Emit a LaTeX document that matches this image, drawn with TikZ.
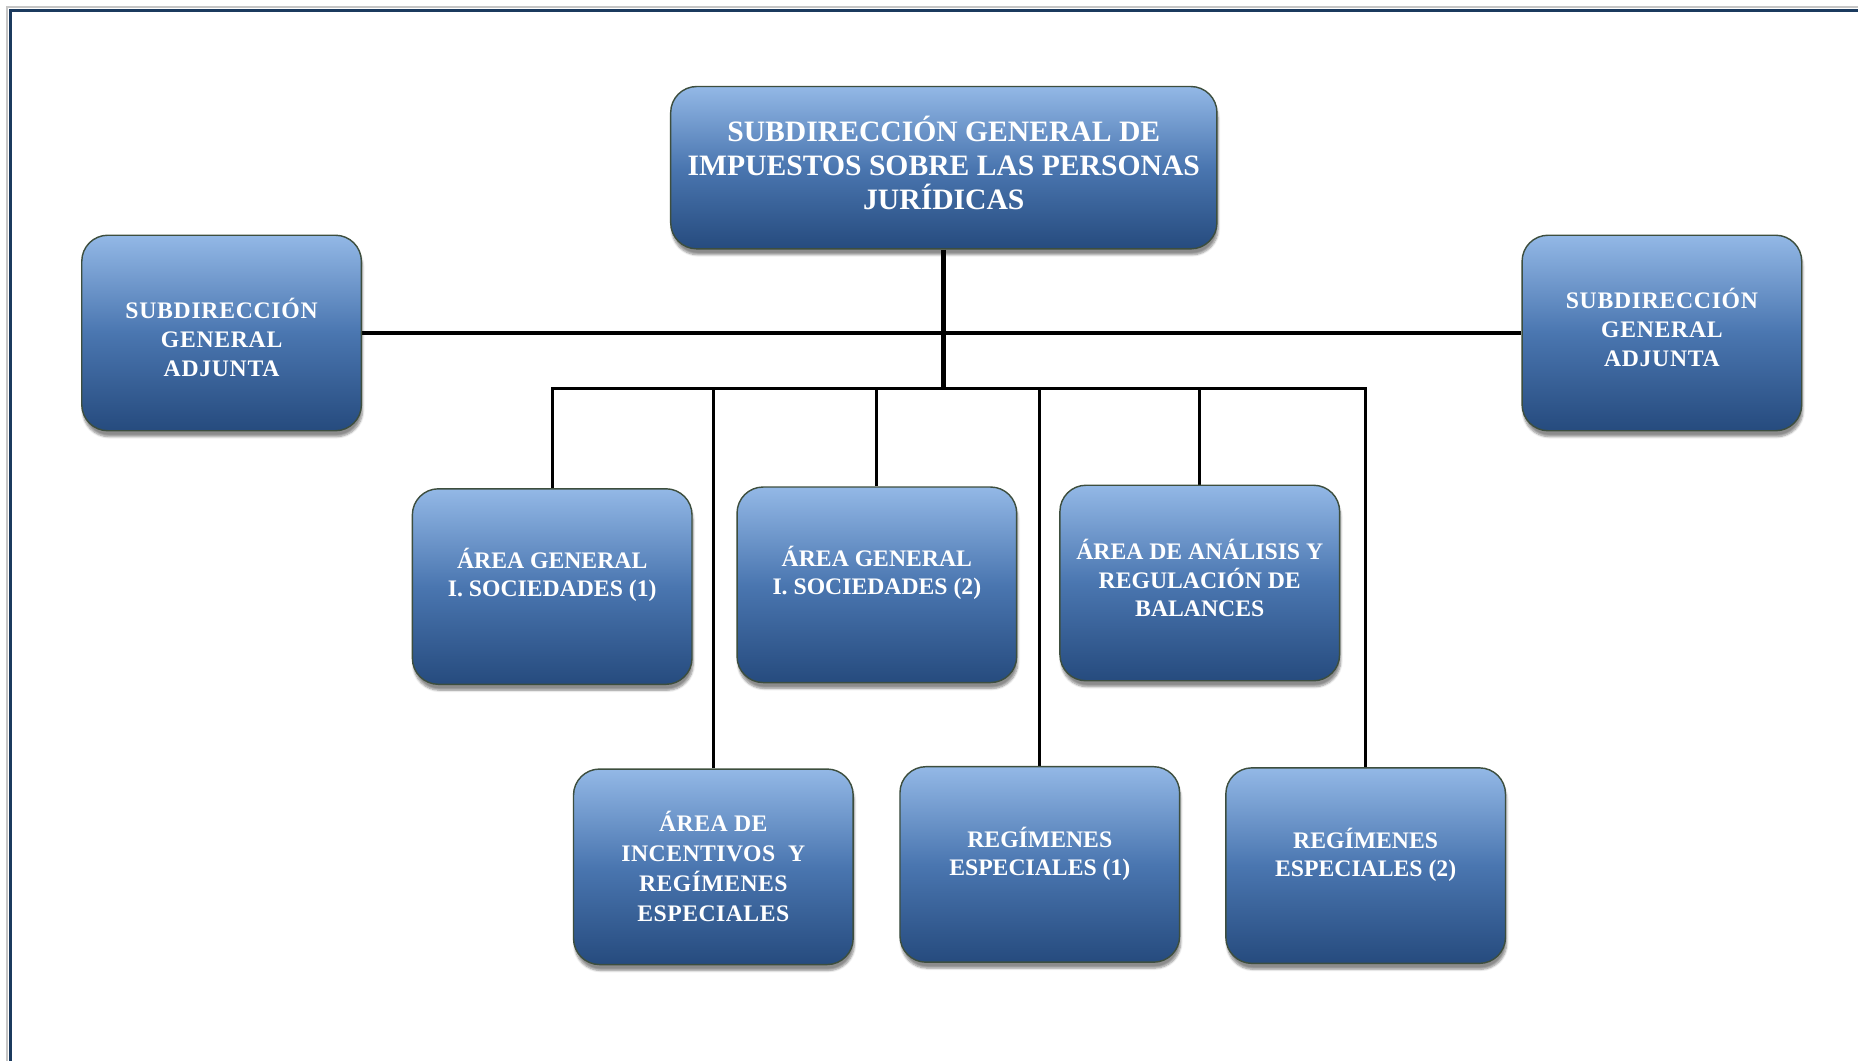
\documentclass[tikz,border=0pt]{standalone}
\usepackage{fontspec}
\setmainfont{Liberation Serif}
\usepackage{tikz}
\usetikzlibrary{positioning, shadows, shadows.blur, backgrounds}
\usepackage{xcolor}

\definecolor{azulclaro}{HTML}{93B8E6}
\definecolor{azulmedio}{HTML}{4A76B0}
\definecolor{azuloscuro}{HTML}{264B7E}
\definecolor{bordecaja}{HTML}{3D4E3E}
\definecolor{marco}{HTML}{1B3A5E}

\tikzset{
  unidad/.style={rounded corners=22pt, draw=bordecaja, line width=1.2pt,
    top color=azulclaro, bottom color=azuloscuro, middle color=azulmedio,
    blur shadow={shadow xshift=1pt, shadow yshift=-5pt, shadow blur steps=6, shadow opacity=45},
    minimum width=236pt, minimum height=165pt, inner sep=0pt},
  rotulo/.style={text=white, align=center, inner sep=0pt,
    font=\bfseries\fontsize{20}{24}\selectfont},
  enlace/.style={black, line width=2.6pt}
}

\begin{document}
\begin{tikzpicture}[x=1pt, y=-1pt]
    \useasboundingbox (0,0) rectangle (1568,895);
    % page frame
    \draw[gray!45, line width=1.2pt] (6,895) -- (6,6) -- (1568,6);
    \draw[marco, line width=2.6pt] (8.5,895) -- (8.5,8.5) -- (1568,8.5);

    % boxes
    \node[unidad, minimum width=461pt, minimum height=137pt] (sg) at (796.5,141.5) {};
    \node[unidad] (adjizq) at (187,281) {};
    \node[unidad] (adjder) at (1402.5,281) {};
    \node[unidad] (soc1) at (466,495) {};
    \node[unidad] (soc2) at (740,493.5) {};
    \node[unidad] (balan) at (1012.5,492) {};
    \node[unidad] (incen) at (602,731.5) {};
    \node[unidad] (reg1) at (877.5,729.5) {};
    \node[unidad] (reg2) at (1152.5,730.5) {};

    % texts
    \node[rotulo, font=\bfseries\fontsize{25}{29}\selectfont] (sg-t) at ([yshift=4pt]sg.center)
      {SUBDIRECCIÓN GENERAL DE\\IMPUESTOS SOBRE LAS PERSONAS\\JURÍDICAS};
    \node[rotulo, font=\bfseries\fontsize{20}{24.5}\selectfont\addfontfeature{LetterSpace=3}]
      (adjizq-t) at ([yshift=-4pt]adjizq.center) {SUBDIRECCIÓN\\GENERAL\\ADJUNTA};
    \node[rotulo, font=\bfseries\fontsize{20}{24.5}\selectfont\addfontfeature{LetterSpace=3}]
      (adjder-t) at ([yshift=5pt]adjder.center) {SUBDIRECCIÓN\\GENERAL\\ADJUNTA};
    \node[rotulo] (soc1-t) at ([yshift=10pt]soc1.center) {ÁREA GENERAL\\I. SOCIEDADES (1)};
    \node[rotulo] (soc2-t) at ([yshift=10pt]soc2.center) {ÁREA GENERAL\\I. SOCIEDADES (2)};
    \node[rotulo] (balan-t) at ([yshift=4pt]balan.center) {ÁREA DE ANÁLISIS Y\\REGULACIÓN DE\\BALANCES};
    \node[rotulo, font=\bfseries\fontsize{20}{25.3}\selectfont\addfontfeature{LetterSpace=2}]
      (incen-t) at (incen.center) {ÁREA DE\\INCENTIVOS~ Y\\REGÍMENES\\ESPECIALES};
    \node[rotulo] (reg1-t) at ([yshift=9pt]reg1.center) {REGÍMENES\\ESPECIALES (1)};
    \node[rotulo] (reg2-t) at ([yshift=9pt]reg2.center) {REGÍMENES\\ESPECIALES (2)};

    \coordinate (barra) at (796.5,328);

    \begin{scope}[on background layer]
      \draw[enlace] (adjizq.east) -- (adjder.west);
      \draw[enlace, line width=4pt] (sg.south) -- (barra);
      \foreach \n in {soc1, soc2, balan, incen, reg1, reg2} {
        \draw[enlace] (\n.north) |- (barra);
      }
    \end{scope}

  \end{tikzpicture}
\end{document}
